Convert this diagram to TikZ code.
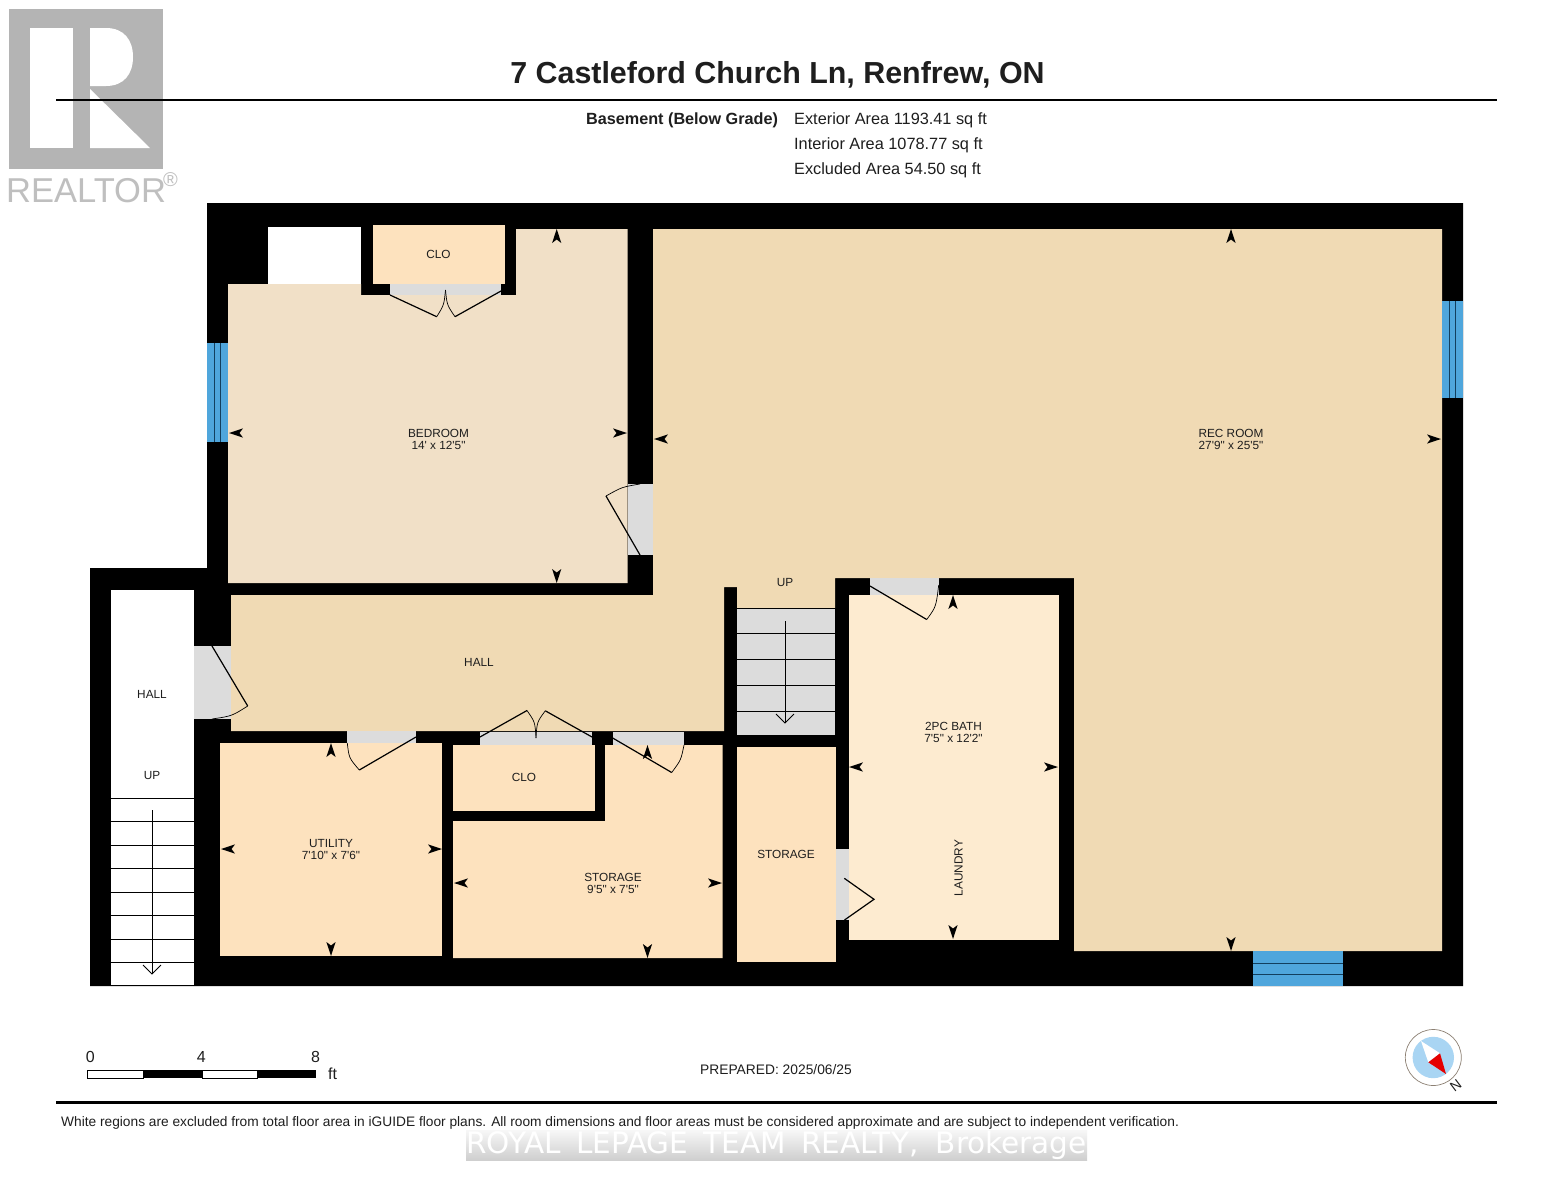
\documentclass[tikz,border=0pt]{standalone}
\usepackage{fontspec}
\newfontfamily\lab{Liberation Sans}
\newfontfamily\wm{DejaVu Sans}
\usetikzlibrary{shadings}
\definecolor{recfloor}{HTML}{F0DAB4}
\definecolor{bedfloor}{HTML}{F1E0C7}
\definecolor{warmfloor}{HTML}{FDE2BE}
\definecolor{bathfloor}{HTML}{FDEBD0}
\definecolor{doorgrey}{HTML}{DCDCDC}
\definecolor{winblue}{HTML}{4FA6DC}
\definecolor{winline}{HTML}{123F5E}
\definecolor{labelink}{HTML}{1E1E1E}
\definecolor{logogrey}{HTML}{B4B4B4}
\definecolor{compassblue}{HTML}{A9D5F3}
\newcommand\fs[2]{\fontsize{#1}{#2}\selectfont}
\tikzset{
  roomlabel/.style={font=\lab\fs{11.8}{12.6}, align=center, inner sep=0pt, text=labelink},
  infolabel/.style={font=\lab\fs{16.3}{17}, inner sep=0pt, text=labelink, anchor=base west},
  leaf/.style={draw=black, line width=1.2pt},
  swing/.style={draw=black, line width=0.7pt},
  tread/.style={draw=black, line width=0.9pt},
  rule/.style={draw=black, line width=2.6pt},
  dimmark/.style={fill=black},
}
\newcommand\dimtip[3]{\fill[dimmark,shift={(#1,#2)},rotate=#3] (0,0) -- (4.6,14) -- (0,10.5) -- (-4.6,14) -- cycle;}
\begin{document}
\begin{tikzpicture}[x=1pt,y=-1pt]
\useasboundingbox (0,0) rectangle (1553,1200);
\fill[white] (0,0) rectangle (1553,1200);

% Realtor logo
\fill[logogrey] (8.5,8.5) rectangle (163,169);
\fill[white] (30,28) rectangle (73,148);
\fill[white] (90,28) -- (106,28) .. controls (124,28) and (133,40) .. (133,57) .. controls (133,74) and (124,86) .. (106,86) -- (90,86) -- cycle;
\fill[white] (90,89) -- (150,148) -- (90,148) -- cycle;
\node[font=\lab\fs{34.5}{35}, text=logogrey!85!white, inner sep=0pt, anchor=base west] (realtor) at (6,202) {REALTOR};
\node[font=\lab\fs{20}{20}, text=logogrey!85!white, inner sep=0pt] (regmark) at (170.5,179.5) {®};

% header
\node[font=\lab\bfseries\fs{30.4}{31}, text=labelink, inner sep=0pt, anchor=base] (title) at (777.5,83.5) {7 Castleford Church Ln, Renfrew, ON};
\coordinate (ruleAL) at (56,100); \coordinate (ruleAR) at (1497,100);
\draw[rule] (ruleAL) -- (ruleAR);
\node[infolabel, font=\lab\bfseries\fs{16.2}{17}] (level) at (586,124.5) {Basement (Below Grade)};
\node[infolabel] (ext) at (794,124.5) {Exterior Area 1193.41 sq ft};
\node[infolabel] (int) at (794,149.5) {Interior Area 1078.77 sq ft};
\node[infolabel] (exc) at (794,174.5) {Excluded Area 54.50 sq ft};

% walls (solid mass)
\fill[black] (207,203) -- (1463,203) -- (1463,986) -- (90,986) -- (90,568) -- (207,568) -- cycle;

% white excluded pieces
\fill[white] (268,227) rectangle (361,284);
\fill[white] (110.5,589.5) rectangle (194,985.5);

% floors
\fill[recfloor] (653,229) -- (1442,229) -- (1442,951) -- (1074,951) -- (1074,578) -- (835,578) -- (835,608) -- (737,608) -- (737,587) -- (724,587) -- (724,731) -- (231,731) -- (231,595) -- (653,595) -- cycle;
\fill[bedfloor] (228,284) -- (361,284) -- (361,295) -- (516,295) -- (516,229) -- (627.5,229) -- (627.5,583) -- (228,583) -- cycle;
\fill[warmfloor] (373,225) rectangle (505,284);
\fill[warmfloor] (220,743) rectangle (442,956);
\fill[warmfloor] (453,745) rectangle (594.5,810.5);
\fill[warmfloor] (453,821) -- (605,821) -- (605,745) -- (722.5,745) -- (722.5,958) -- (453,958) -- cycle;
\fill[warmfloor] (736.5,747) rectangle (836,962);
\fill[bathfloor] (848.5,594.5) rectangle (1058.5,939.5);

% door openings and stairs
\fill[doorgrey] (390,284) rectangle (501,295);
\fill[doorgrey] (627.5,484) rectangle (653,555);
\fill[doorgrey] (193.5,646) rectangle (231,719);
\fill[doorgrey] (347.3,731) rectangle (416,743);
\fill[doorgrey] (480,732) rectangle (592,745);
\fill[doorgrey] (612.7,732) rectangle (684,745);
\fill[doorgrey] (836,849) rectangle (848.5,920);
\fill[doorgrey] (870,578) rectangle (939,594.5);
\fill[doorgrey] (737,608) rectangle (835,735);

% windows
\fill[winblue] (207,343) rectangle (228,442);
\draw[winline, line width=0.8pt] (214.7,343) -- (214.7,442) (220.7,343) -- (220.7,442);
\fill[winblue] (1442,301) rectangle (1463,398);
\draw[winline, line width=0.8pt] (1449.3,301) -- (1449.3,398) (1455.7,301) -- (1455.7,398);
\fill[winblue] (1253,951) rectangle (1343,986);
\draw[winline, line width=0.9pt] (1253,963.3) -- (1343,963.3) (1253,974.7) -- (1343,974.7);

% door leaves and swings
\draw[leaf] (390,295) -- (436.7,316.7);
\draw[leaf] (501,291) -- (455,316.7);
\draw[swing] (436.7,316.7) .. controls (444,305) .. (445.5,290);
\draw[swing] (455,316.7) .. controls (447,305) .. (445.5,290);
\draw[leaf] (640,555) -- (606,496);
\draw[swing] (606,496) .. controls (622,487) .. (640,484);
\draw[leaf] (212,646) -- (247.7,706);
\draw[swing] (247.7,706) .. controls (232,716) .. (212,719);
\draw[leaf] (416,737) -- (359.3,770);
\draw[swing] (359.3,770) .. controls (349,758) .. (347.3,743);
\draw[leaf] (480,737) -- (527,710.5);
\draw[leaf] (592,737) -- (545.3,710.8);
\draw[swing] (527,710.5) .. controls (535,722) .. (536,738);
\draw[swing] (545.3,710.8) .. controls (537,722) .. (536,738);
\draw[leaf] (612.7,738) -- (671.7,772.5);
\draw[swing] (671.7,772.5) .. controls (681,760) .. (684,745);
\draw[leaf] (844.3,878.3) -- (874,899.3) -- (844.5,920);
\draw[leaf] (870,586) -- (926.7,619.5);
\draw[swing] (926.7,619.5) .. controls (936,607) .. (938.7,585);

% stair treads
\foreach \yy in {798,821.5,845,868.5,892,915.5,939,962,985.5}
  \draw[tread] (110.5,\yy) -- (194,\yy);
\draw[tread] (110.5,798) -- (110.5,985.5) (194,798) -- (194,985.5);
\coordinate (stairAtop) at (152,810); \coordinate (stairAend) at (152,974);
\draw[tread] (stairAtop) -- (stairAend);
\draw[tread] (143,965) -- (stairAend) -- (161,965);
\foreach \yy in {608.5,633.5,659.5,685,711}
  \draw[tread] (737,\yy) -- (835,\yy);
\coordinate (stairBtop) at (785,621); \coordinate (stairBend) at (785,723);
\draw[tread] (stairBtop) -- (stairBend);
\draw[tread] (776,714) -- (stairBend) -- (794,714);

% dimension tips
\dimtip{556.7}{229}{0} \dimtip{556.7}{583}{180} \dimtip{229}{433}{90} \dimtip{627}{433}{-90}
\dimtip{1231}{229}{0} \dimtip{1231}{951}{180} \dimtip{654}{439}{90} \dimtip{1441}{439}{-90}
\dimtip{953}{595}{0} \dimtip{953}{939}{180} \dimtip{849}{767}{90} \dimtip{1058}{767}{-90}
\dimtip{331}{743}{0} \dimtip{331}{956}{180} \dimtip{221}{849}{90} \dimtip{442}{849}{-90}
\dimtip{647.5}{745}{0} \dimtip{647.5}{958}{180} \dimtip{454}{883}{90} \dimtip{722}{883}{-90}

% room labels
\node[roomlabel] (bedroom) at (438.5,439.5) {BEDROOM\\14' x 12'5"};
\node[roomlabel] (recroom) at (1231,439.5) {REC ROOM\\27'9" x 25'5"};
\node[roomlabel] (cloA) at (438.5,254.5) {CLO};
\node[roomlabel] (cloB) at (524,777) {CLO};
\node[roomlabel] (hallA) at (479,662) {HALL};
\node[roomlabel] (hallB) at (152,694) {HALL};
\node[roomlabel] (upA) at (152,775) {UP};
\node[roomlabel] (upB) at (785,582) {UP};
\node[roomlabel] (utility) at (331,849.5) {UTILITY\\7'10" x 7'6"};
\node[roomlabel] (storageA) at (613,883.5) {STORAGE\\9'5" x 7'5"};
\node[roomlabel] (storageB) at (786,854) {STORAGE};
\node[roomlabel] (bath) at (953.5,732.5) {2PC BATH\\7'5" x 12'2"};
\node[roomlabel, rotate=90] (laundry) at (958.5,868) {LAUNDRY};

% scale bar
\draw[black, line width=0.6pt, fill=white] (87.5,1070.5) rectangle (143.5,1078);
\fill[black] (143.5,1070) rectangle (202,1078);
\draw[black, line width=0.6pt, fill=white] (202,1070.5) rectangle (257.5,1078);
\fill[black] (257.5,1070) rectangle (316,1078);
\node[font=\lab\fs{16}{17}, text=labelink, inner sep=0pt] (sc0) at (90.3,1057) {0};
\node[font=\lab\fs{16}{17}, text=labelink, inner sep=0pt] (sc4) at (201.3,1057) {4};
\node[font=\lab\fs{16}{17}, text=labelink, inner sep=0pt] (sc8) at (315.5,1057) {8};
\node[font=\lab\fs{16}{17}, text=labelink, inner sep=0pt] (scft) at (332.5,1074) {ft};

\node[font=\lab\fs{13.8}{15}, text=labelink, inner sep=0pt] (prepared) at (776,1070) {PREPARED: 2025/06/25};

% compass
\draw[draw=gray!80!brown, line width=0.7pt, fill=white] (1433.3,1057.5) circle[radius=28];
\fill[compassblue] (1433.3,1057.5) circle[radius=20.7];
\fill[white] (1421,1041) -- (1440,1053.3) -- (1428.3,1062.3) -- cycle;
\fill[red!90!black] (1446,1074) -- (1440,1053.3) -- (1428.3,1062.3) -- cycle;
\node[font=\lab\fs{14}{15}, text=labelink, inner sep=0pt, rotate=37] (north) at (1455.7,1085.7) {N};

% footer
\coordinate (ruleBL) at (56,1102.5); \coordinate (ruleBR) at (1497,1102.5);
\draw[rule] (ruleBL) -- (ruleBR);
\node[font=\lab\fs{13.73}{15}, text=labelink, inner sep=0pt, anchor=base west] (note) at (61,1126.5) {White regions are excluded from total floor area in iGUIDE floor plans. All room dimensions and floor areas must be considered approximate and are subject to independent verification.};

% watermark
\shade[top color=gray!6, bottom color=gray!38] (466,1130) rectangle (1087,1160);
\node[font=\wm\fs{29.5}{30}, text=white, inner sep=0pt, anchor=base] (watermark) at (776.5,1153) {ROYAL\hspace{6pt} LEPAGE\hspace{6pt} TEAM\hspace{6pt} REALTY,\hspace{8pt} Brokerage};
\end{tikzpicture}
\end{document}
